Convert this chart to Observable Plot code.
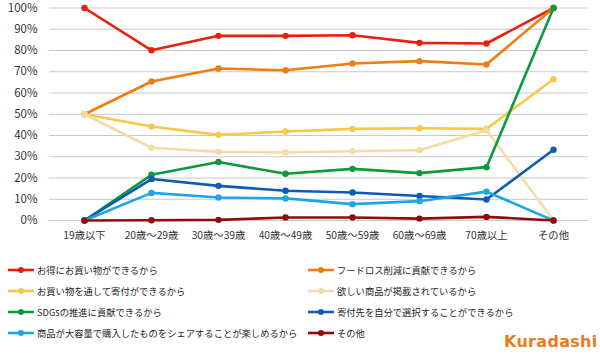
<!DOCTYPE html>
<html><head><meta charset="utf-8">
<script src="https://cdn.jsdelivr.net/npm/d3@7"></script>
<script src="https://cdn.jsdelivr.net/npm/@observablehq/plot@0.6"></script>
<style>
body{margin:0;background:#fff;font-family:"Noto Sans CJK JP","Noto Sans",sans-serif;}
#wrap{position:relative;width:600px;height:356px;overflow:hidden;}
#legend{position:absolute;left:0;top:259px;width:600px;}
.item{position:absolute;height:21px;display:flex;align-items:center;font-size:9.3px;color:#262626;white-space:nowrap;}
.item svg{margin-right:2px;}
#logo{position:absolute;left:504px;top:332px;font-family:"DejaVu Sans",sans-serif;font-weight:bold;font-size:16px;color:#ec7a1c;letter-spacing:0.3px;}
</style></head>
<body><div id="wrap"><div id="chart"></div><div id="legend"></div><div id="logo">Kuradashi</div></div>
<script>
const categories = ["19歳以下","20歳～29歳","30歳～39歳","40歳～49歳","50歳～59歳","60歳～69歳","70歳以上","その他"];
const seriesNames = [
  "お得にお買い物ができるから",
  "フードロス削減に貢献できるから",
  "お買い物を通して寄付ができるから",
  "欲しい商品が掲載されているから",
  "SDGsの推進に貢献できるから",
  "寄付先を自分で選択することができるから",
  "商品が大容量で購入したものをシェアすることが楽しめるから",
  "その他"
];
const colors = ["#e8200c","#ef7d0f","#f7c949","#f6dba5","#0d9a3e","#0c5bb5","#1ea5e8","#8c0d0d"];
const sBargain   = [100, 80.1, 86.9, 86.9, 87.2, 83.6, 83.3, 100];
const sFoodLoss  = [50, 65.4, 71.5, 70.7, 73.9, 75.0, 73.4, 100];
const sDonate    = [50, 44.2, 40.3, 41.9, 43.1, 43.4, 43.1, 66.5];
const sProducts  = [50, 34.2, 32.3, 32.0, 32.6, 33.1, 42.5, 0];
const sSDGs      = [0, 21.5, 27.5, 22.0, 24.3, 22.3, 25.1, 100];
const sChoose    = [0, 19.5, 16.3, 14.0, 13.2, 11.5, 9.9, 33.3];
const sShare     = [0, 13.0, 10.8, 10.4, 7.7, 9.1, 13.6, 0];
const sOther     = [0, 0.1, 0.3, 1.4, 1.4, 0.9, 1.7, 0];
const yTicks = [0,10,20,30,40,50,60,70,80,90,100];

const seriesValues = [sBargain,sFoodLoss,sDonate,sProducts,sSDGs,sChoose,sShare,sOther];
const data = seriesNames.flatMap((name,i)=>categories.map((c,j)=>({series:name,cat:c,value:seriesValues[i][j]})));

const marks = [
  Plot.gridY(yTicks,{stroke:"#c9c9c9",strokeOpacity:1,strokeWidth:1}),
  Plot.axisY(yTicks,{tickSize:0,tickPadding:12,tickFormat:d=>d+"%",fontSize:11.5,fill:"#333",label:null}),
  Plot.axisX({tickSize:0,tickPadding:11,fontSize:10.3,fill:"#333",label:null})
];
seriesNames.forEach(name=>{
  const d = data.filter(r=>r.series===name);
  marks.push(Plot.line(d,{x:"cat",y:"value",stroke:"series",strokeWidth:2.6}));
  marks.push(Plot.dot(d,{x:"cat",y:"value",fill:"series",r:3.2}));
});

const chart = Plot.plot({
  width:600,height:250,
  marginTop:7.5,marginBottom:30,marginLeft:49,marginRight:12,
  style:{fontFamily:'"Noto Sans CJK JP","Noto Sans",sans-serif',background:"#fff"},
  x:{type:"point",domain:categories,padding:0.5},
  y:{domain:[0,100]},
  color:{domain:seriesNames,range:colors},
  marks
});
document.getElementById("chart").appendChild(chart);

const legend = document.getElementById("legend");
seriesNames.forEach((name,i)=>{
  const col = i%2, row = Math.floor(i/2);
  const div = document.createElement("div");
  div.className="item";
  div.style.left = (col===0?7:307)+"px";
  div.style.top = (row*21)+"px";
  div.innerHTML = `<svg width="28" height="10"><line x1="1" x2="27" y1="5" y2="5" stroke="${colors[i]}" stroke-width="2.6"/><circle cx="14" cy="5" r="3" fill="${colors[i]}"/></svg><span>${name}</span>`;
  legend.appendChild(div);
});
</script>
</body></html>
